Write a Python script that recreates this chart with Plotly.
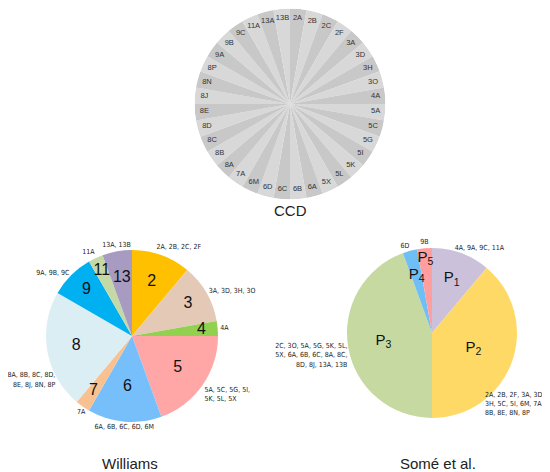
#!/usr/bin/env python3
"""Three clade pie charts (CCD, Williams, Somé et al.) drawn as polar bars."""

import plotly.graph_objects as go

# CCD: one slice per clade, clockwise from 12 o'clock
ccd_labels = [
    "2A", "2B", "2C", "2F", "3A", "3D", "3H", "3O", "4A", "5A", "5C", "5G",
    "5I", "5K", "5L", "5X", "6A", "6B", "6C", "6D", "6M", "7A", "8A", "8B",
    "8C", "8D", "8E", "8J", "8N", "8P", "9A", "9B", "9C", "11A", "13A", "13B",
]

# Williams groups and their member clades
williams_groups = ["2", "3", "4", "5", "6", "7", "8", "9", "11", "13"]
williams_members = [
    "2A, 2B, 2C, 2F",
    "3A, 3D, 3H, 3O",
    "4A",
    "5A, 5C, 5G, 5I,<br>5K, 5L, 5X",
    "6A, 6B, 6C, 6D, 6M",
    "7A",
    "8A, 8B, 8C, 8D,<br>8E, 8J, 8N, 8P",
    "9A, 9B, 9C",
    "11A",
    "13A, 13B",
]

# Somé et al. groups
some_groups = ["P<sub>1</sub>", "P<sub>2</sub>", "P<sub>3</sub>", "P<sub>4</sub>", "P<sub>5</sub>"]
some_members = [
    "4A, 9A, 9C, 11A",
    "2A, 2B, 2F, 3A, 3D,<br>3H, 5C, 5I, 6M, 7A,<br>8B, 8E, 8N, 8P",
    "2C, 3O, 5A, 5G, 5K, 5L,<br>5X, 6A, 6B, 6C, 8A, 8C,<br>8D, 8J, 13A, 13B",
    "6D",
    "9B",
]

# styles
williams_colors = ["#FFC000", "#E5C9B7", "#92D050", "#FFA6A6", "#76BFFA",
                   "#F8C191", "#DBEEF4", "#00B0F0", "#C5D9A6", "#A79BC1"]
williams_num_r = [0.67, 0.75, 0.81, 0.65, 0.6, 0.78, 0.66, 0.75, 0.83, 0.68]
williams_lbl_pos = ["top right", "middle right", "middle right", "bottom right",
                    "bottom center", "bottom center", "middle left", "middle left",
                    "top left", "top center"]
williams_lbl_shift = [-4, 0, 0, 0, 0, 0, -20, 0, 0, 0]
williams_lbl_r = [1.03] * 10

some_colors = ["#CCC1DB", "#FFD966", "#C6D9A0", "#6FBEF6", "#FF9E9E"]
some_num_r = [0.68, 0.52, 0.58, 0.7, 0.88]
some_lbl_pos = ["middle right", "bottom right", "middle left", "top center", "top center"]
some_lbl_shift = [-5, 28, -5, -3, 0]
some_lbl_r = [1.03, 0.93, 1.03, 1.03, 1.03]

LABEL_FONT = dict(
    family="Noto Sans Condensed, Liberation Sans Narrow, DejaVu Sans Condensed, Liberation Sans",
    size=7, color="#222222",
)
NUM_FONT = dict(family="Liberation Sans, Arial", size=16, color="#111111")

W, H = 550, 472
PAGE_OFFSET = 8  # the html body margin shifts the figure inside the window


def slice_geometry(counts):
    """Return mid angles and widths (degrees) for slices of 10 deg per clade."""
    widths = [c * 360 / 36 for c in counts]
    mids, start = [], 0
    for w in widths:
        mids.append(start + w / 2)
        start += w
    return mids, widths


def add_pie(fig, polar, mids, widths, colors):
    fig.add_trace(go.Barpolar(
        r=[1] * len(mids), theta=mids, width=widths,
        marker=dict(color=colors, line=dict(width=0)),
        subplot=polar, hoverinfo="skip", showlegend=False,
    ))


fig = go.Figure()

# CCD
ccd_mids, ccd_widths = slice_geometry([1] * len(ccd_labels))
ccd_colors = ["#C8C8C8" if i % 2 == 0 else "#D8D8D8" for i in range(len(ccd_labels))]
add_pie(fig, "polar", ccd_mids, ccd_widths, ccd_colors)
fig.add_trace(go.Scatterpolar(
    r=[0.9] * len(ccd_labels), theta=ccd_mids, text=ccd_labels, mode="text",
    textfont=dict(family="Liberation Sans, Arial", size=7.5, color="#333333"),
    subplot="polar", hoverinfo="skip", showlegend=False, cliponaxis=False,
))

# Williams
w_counts = [len(m.replace("<br>", " ").split(",")) for m in williams_members]
w_mids, w_widths = slice_geometry(w_counts)
add_pie(fig, "polar2", w_mids, w_widths, williams_colors)
fig.add_trace(go.Scatterpolar(
    r=williams_num_r, theta=w_mids, text=williams_groups, mode="text",
    textfont=NUM_FONT, subplot="polar2", hoverinfo="skip", showlegend=False,
))
fig.add_trace(go.Scatterpolar(
    r=williams_lbl_r, theta=[m + s for m, s in zip(w_mids, williams_lbl_shift)],
    text=williams_members, mode="text", textposition=williams_lbl_pos,
    textfont=LABEL_FONT, subplot="polar2", hoverinfo="skip", showlegend=False,
    cliponaxis=False,
))

# Somé et al.
s_counts = [len(m.replace("<br>", " ").split(",")) for m in some_members]
s_mids, s_widths = slice_geometry(s_counts)
add_pie(fig, "polar3", s_mids, s_widths, some_colors)
fig.add_trace(go.Scatterpolar(
    r=some_num_r, theta=s_mids, text=some_groups, mode="text",
    textfont=dict(family="Liberation Sans, Arial", size=15, color="#111111"),
    subplot="polar3", hoverinfo="skip", showlegend=False,
))
fig.add_trace(go.Scatterpolar(
    r=some_lbl_r, theta=[m + s for m, s in zip(s_mids, some_lbl_shift)],
    text=some_members, mode="text", textposition=some_lbl_pos,
    textfont=LABEL_FONT, subplot="polar3", hoverinfo="skip", showlegend=False,
    cliponaxis=False,
))


def px(x, y):
    """Window pixel -> paper coordinates, kept inside [0, 1]."""
    xp = (x - PAGE_OFFSET) / W
    yp = 1 - (y - PAGE_OFFSET) / H
    return min(max(xp, 0), 1), min(max(yp, 0), 1)


def polar_layout(cx, cy, radius, rmax):
    """Square domain around a pixel centre; radius is pixel radius of r=1."""
    half = radius * rmax
    x0, y0 = px(cx - half, cy + half)
    x1, y1 = px(cx + half, cy - half)
    return dict(
        domain=dict(x=[x0, x1], y=[y0, y1]),
        bgcolor="rgba(0,0,0,0)",
        bargap=0,
        radialaxis=dict(visible=False, range=[0, rmax]),
        angularaxis=dict(visible=False, direction="clockwise", rotation=90),
    )


titles = [("CCD", 290, 210), ("Williams", 130, 463), ("Somé et al.", 438, 463)]
annotations = []
for t, x, y in titles:
    ax, ay = px(x, y)
    annotations.append(dict(
        text=t, x=ax, y=ay, xref="paper", yref="paper",
        xanchor="center", yanchor="middle", showarrow=False,
        font=dict(family="Liberation Sans, Arial", size=15, color="#222222"),
    ))

fig.update_layout(
    width=W, height=H,
    margin=dict(l=0, r=0, t=0, b=0),
    paper_bgcolor="white",
    polar=polar_layout(290, 104, 95.5, 1.0),
    polar2=polar_layout(132, 336, 86, 1.1),
    polar3=polar_layout(432, 333, 85, 1.1),
    annotations=annotations,
)

fig.write_html("out.html")
